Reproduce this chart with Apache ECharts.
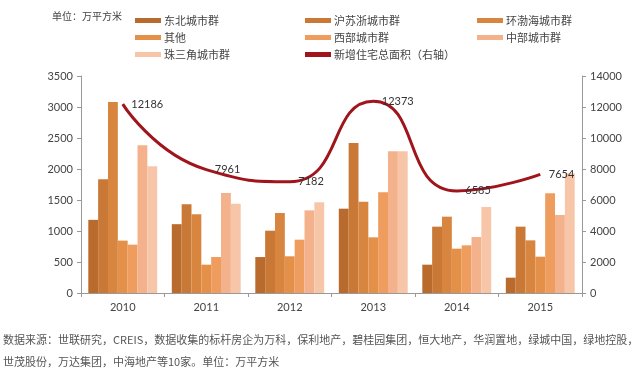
<!DOCTYPE html>
<html><head><meta charset="utf-8">
<script src="https://cdn.jsdelivr.net/npm/echarts@6/dist/echarts.min.js"></script>
<style>html,body{margin:0;padding:0;background:#fff;}#c{width:640px;height:372px;}</style>
</head><body><div id="c"></div>
<script>
const years = ['2010','2011','2012','2013','2014','2015'];
const dongbei   = [1180, 1110, 580, 1360, 457, 247];
const husuzhe   = [1835, 1430, 1005, 2420, 1070, 1070];
const huanbohai = [3080, 1270, 1290, 1473, 1231, 849];
const qita      = [845, 457, 592, 898, 715, 586];
const xibu      = [780, 581, 860, 1624, 769, 1607];
const zhongbu   = [2382, 1613, 1333, 2285, 903, 1258];
const zhusanjiao= [2043, 1441, 1462, 2285, 1387, 1930];
const totalNew  = [12186, 7961, 7182, 12373, 6585, 7654];
const leftTicks = [0, 500, 1000, 1500, 2000, 2500, 3000, 3500];
const rightTicks = [0, 2000, 4000, 6000, 8000, 10000, 12000, 14000];

const barNames = ['东北城市群','沪苏浙城市群','环渤海城市群','其他','西部城市群','中部城市群','珠三角城市群'];
const barData = [dongbei, husuzhe, huanbohai, qita, xibu, zhongbu, zhusanjiao];
const barColors = ['#b96b2d','#c97836','#d7853f','#e59049','#ef9d5e','#f4b28c','#f7c6a8'];
const lineName = '新增住宅总面积（右轴）';

const font = 'Lato, "Noto Sans CJK SC", sans-serif';
const series = barData.map((d, i) => ({
  name: barNames[i], type: 'bar', data: d, yAxisIndex: 0,
  barGap: '0%', barCategoryGap: '17.5%',
  itemStyle: { color: barColors[i] }
}));
series.push({
  name: lineName, type: 'line', data: totalNew, yAxisIndex: 1,
  smooth: 0.55, symbol: 'circle', symbolSize: 1, showSymbol: true, z: 10,
  lineStyle: { color: '#a0141c', width: 3 },
  itemStyle: { color: '#a0141c', opacity: 0 },
  label: { show: true, position: 'right', distance: 8, color: '#333', fontSize: 11, fontFamily: font, opacity: 1 }
});

const legendCommon = {
  orient: 'vertical', itemWidth: 26, itemHeight: 5, itemGap: 6, icon: 'rect',
  textStyle: { fontSize: 11, color: '#444', fontFamily: '"Noto Sans CJK SC", sans-serif', padding: [0,0,0,-2] }
};

const chart = echarts.init(document.getElementById('c'));
chart.setOption({
  animation: false,
  backgroundColor: '#fff',
  textStyle: { fontFamily: font },
  title: [{
    text: '单位：万平方米', left: 47, top: 6,
    textStyle: { fontSize: 10, fontWeight: 'normal', color: '#444', fontFamily: '"Noto Sans CJK SC", sans-serif' }
  }],
  graphic: [
    { type: 'text', left: 3, top: 334, style: { text: '数据来源：世联研究，CREIS，数据收集的标杆房企为万科，保利地产，碧桂园集团，恒大地产，华润置地，绿城中国，绿地控股，', fontSize: 11, fill: '#555', fontFamily: '"Noto Sans CJK SC", sans-serif' } },
    { type: 'text', left: 3, top: 356, style: { text: '世茂股份，万达集团，中海地产等10家。单位：万平方米', fontSize: 11, fill: '#555', fontFamily: '"Noto Sans CJK SC", sans-serif' } }
  ],
  legend: [
    Object.assign({}, legendCommon, { left: 130, top: 10, data: [barNames[0], barNames[3], barNames[6]] }),
    Object.assign({}, legendCommon, { left: 300, top: 10, data: [barNames[1], barNames[4], { name: lineName, itemStyle: { opacity: 1 } }] }),
    Object.assign({}, legendCommon, { left: 472, top: 10, data: [barNames[2], barNames[5]] })
  ],
  grid: { left: 81, right: 58, top: 76, bottom: 79 },
  xAxis: {
    type: 'category', data: years,
    axisLine: { lineStyle: { color: '#999' } },
    axisTick: { show: true, length: 4, lineStyle: { color: '#999' } },
    axisLabel: { color: '#444', fontSize: 11, margin: 9 }
  },
  yAxis: [{
    type: 'value', min: leftTicks[0], max: leftTicks[leftTicks.length - 1], interval: 500,
    axisLine: { show: true, lineStyle: { color: '#999' } },
    axisTick: { show: true, length: 4, lineStyle: { color: '#999' } },
    splitLine: { show: false },
    axisLabel: { color: '#444', fontSize: 11, margin: 8, formatter: v => String(v) }
  }, {
    type: 'value', min: rightTicks[0], max: rightTicks[rightTicks.length - 1], interval: 2000,
    position: 'right',
    axisLine: { show: true, lineStyle: { color: '#999' } },
    axisTick: { show: true, length: 4, lineStyle: { color: '#999' } },
    splitLine: { show: false },
    axisLabel: { color: '#444', fontSize: 11, margin: 8, formatter: v => String(v) }
  }],
  series: series
});
</script></body></html>
